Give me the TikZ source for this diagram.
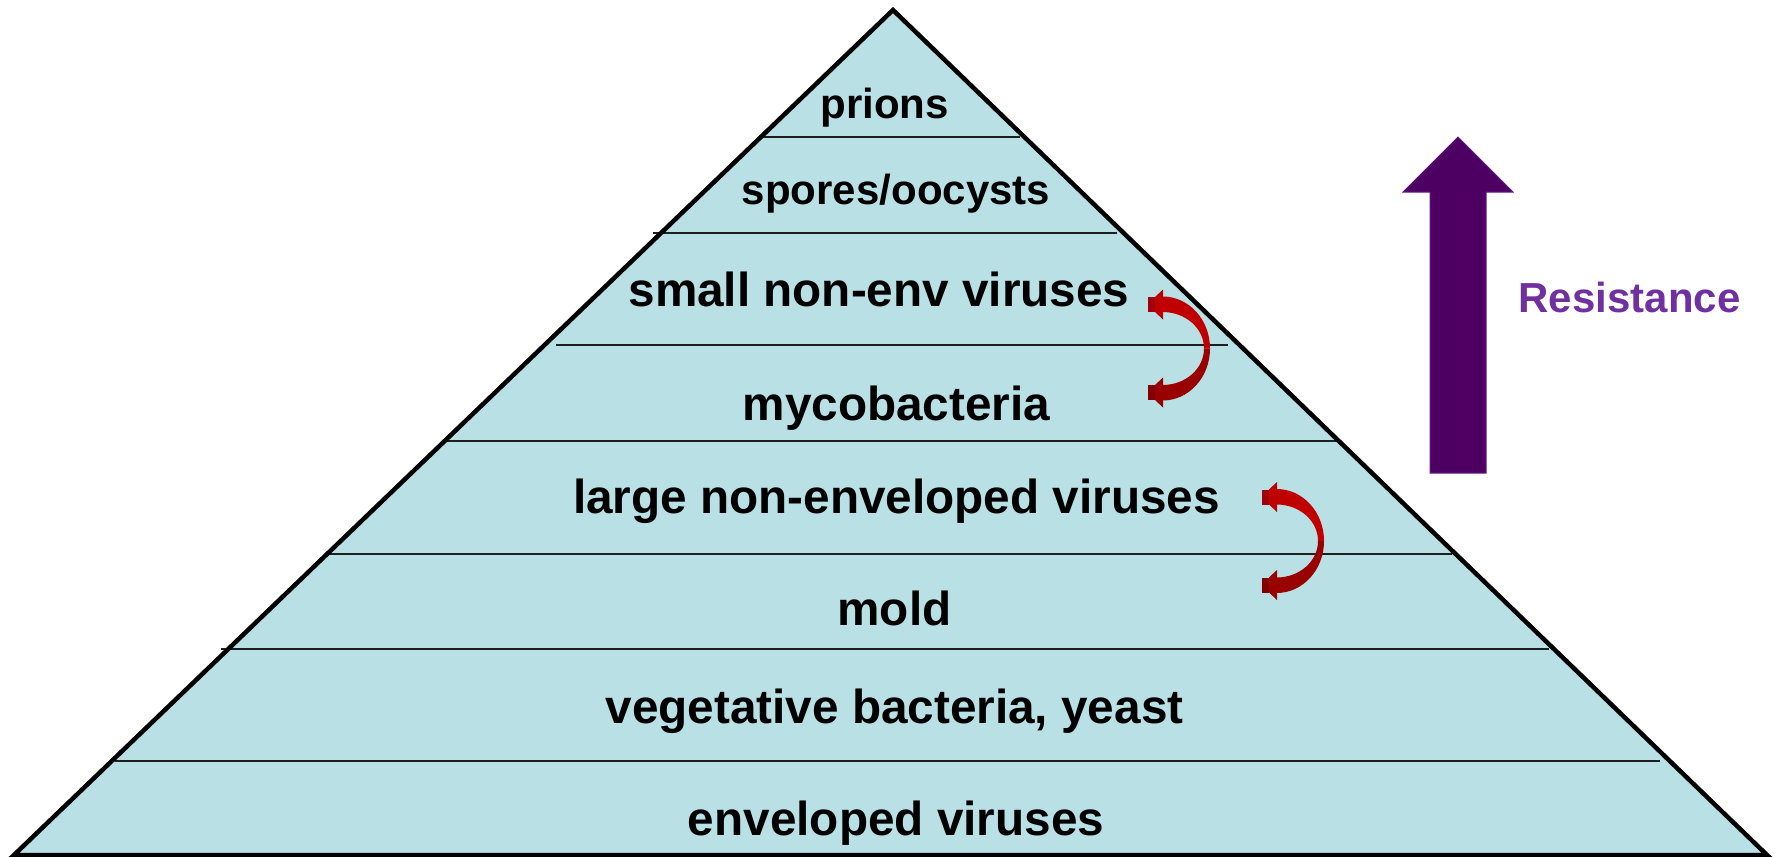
\documentclass[tikz,border=0pt]{standalone}
\usepackage{fontspec}
\setmainfont{Liberation Sans}
\definecolor{pyr}{RGB}{185,224,228}
\definecolor{bred}{RGB}{192,0,0}
\definecolor{dred}{RGB}{153,0,0}
\definecolor{xred}{RGB}{160,0,8}
\definecolor{rarrow}{RGB}{77,0,98}
\definecolor{rtext}{RGB}{112,48,160}
% curved double arrow: #1 = x of head base, #2 = middle y
\newcommand{\resarc}[2]{%
  \fill[bred] (#1-0.5,#2-52) .. controls (#1+26,#2-52) and (#1+47,#2-28.7) .. (#1+47,#2)
     -- (#1+41,#2) .. controls (#1+41,#2-20.2) and (#1+22.6,#2-36.5) .. (#1-0.5,#2-36.5) -- cycle;
  \fill[dred] (#1+47,#2) .. controls (#1+47,#2+28.7) and (#1+26,#2+52) .. (#1-0.5,#2+52)
     -- (#1-0.5,#2+36.5) .. controls (#1+22.6,#2+36.5) and (#1+41,#2+20.2) .. (#1+41,#2) -- cycle;
  \fill[bred] (#1,#2-59) -- (#1-8,#2-51.5) -- (#1-8,#2-36.5) -- (#1,#2-29) -- cycle;
  \fill[xred] (#1-15,#2-51.5) rectangle (#1-8,#2-36.5);
  \fill[dred] (#1,#2+29) -- (#1-8,#2+36.5) -- (#1-8,#2+51.5) -- (#1,#2+59) -- cycle;
  \fill[dred!85!black] (#1-15,#2+36.5) rectangle (#1-8,#2+51.5);
}
\begin{document}
\begin{tikzpicture}[x=1bp,y=-1bp,
  lbl/.style={font=\fontsize{47.7bp}{57bp}\selectfont\bfseries, anchor=base, inner sep=0pt, text=black},
  lblsm/.style={font=\fontsize{42bp}{50bp}\selectfont\bfseries, anchor=base, inner sep=0pt, text=black},
  tier/.style={line width=2bp, draw=black!88}]
\useasboundingbox (0,0) rectangle (1779,857);
\coordinate (apex) at (893,10);
\coordinate (bl) at (14,855);
\coordinate (br) at (1767,855);
\fill[pyr] (apex) -- (bl) -- (br) -- cycle;
% tier separators
\draw[tier] (763,136.5) -- (1020,136.5);
\draw[tier] (653,232.7) -- (1117,232.7);
\draw[tier] (556,345) -- (1228,345);
\draw[tier] (446,441) -- (1337,441);
\draw[tier] (329,553.5) -- (1452,553.5);
\draw[tier] (221,649) -- (1549,649);
\draw[tier] (115,761) -- (1660,761);
\draw[line width=4.5bp, line join=miter] (apex) -- (bl) -- (br) -- cycle;
% labels
\node[lblsm] (prions) at (884.5,118) {prions};
\node[lblsm] (spores) at (896,204) {spores/oocysts};
\node[lbl] (smallnev) at (879,306.5) {small non-env viruses};
\node[lbl] (myco) at (896.5,420) {mycobacteria};
\node[lbl] (largenev) at (896.5,513) {large non-enveloped viruses};
\node[lbl] (mold) at (894.5,625) {mold};
\node[lbl] (veg) at (894.5,723) {vegetative bacteria, yeast};
\node[lbl] (env) at (896,835) {enveloped viruses};
% curved swap arrows
\resarc{1163}{348.5}
\resarc{1277}{541}
% resistance arrow
\fill[rarrow, draw=rtext!60!rarrow, line width=1bp] (1458,137) -- (1513,192) -- (1486,192) -- (1486,473) -- (1430,473) -- (1430,192) -- (1403,192) -- cycle;
\node[font=\fontsize{42bp}{50bp}\selectfont\bfseries, text=rtext, anchor=base, inner sep=0pt] (res) at (1629.5,312) {Resistance};
\end{tikzpicture}
\end{document}
